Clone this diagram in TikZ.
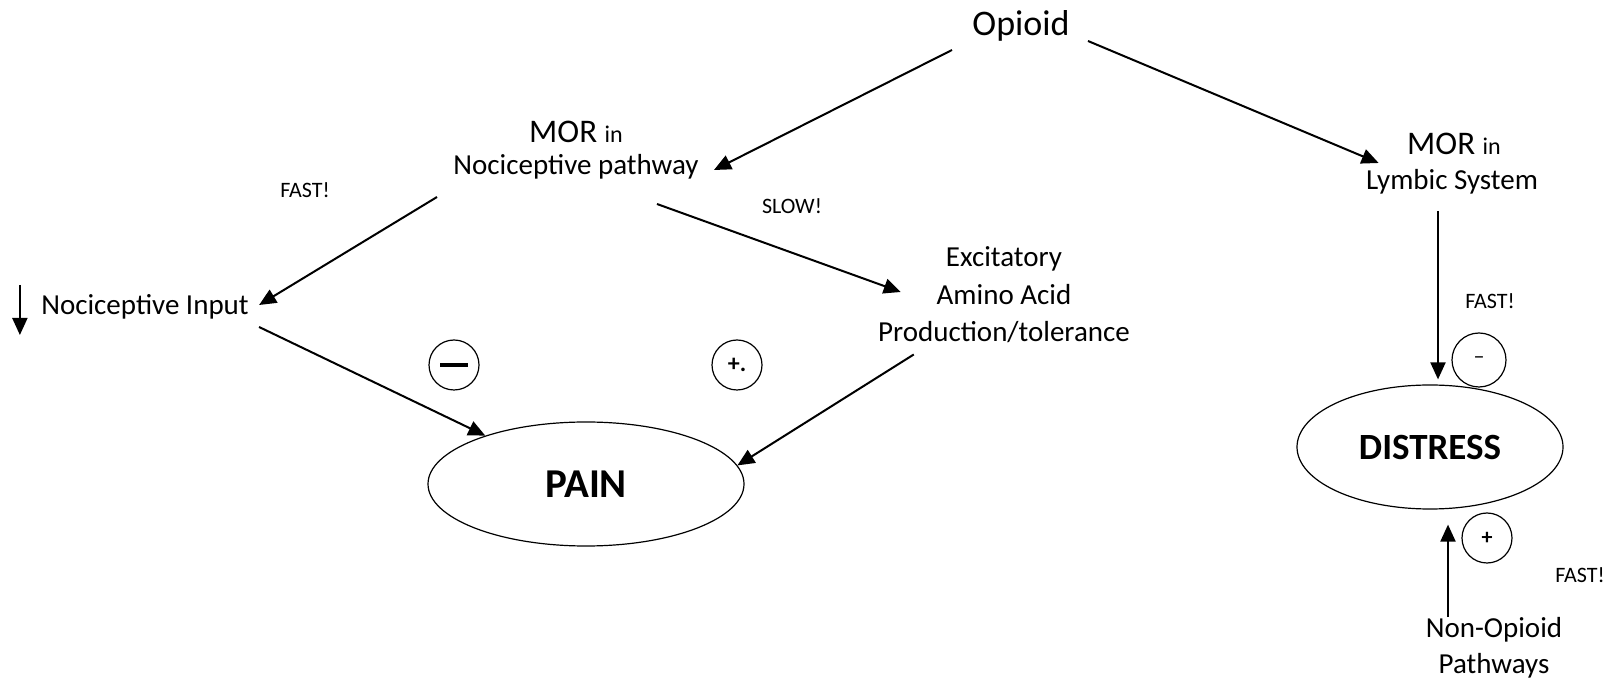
\documentclass[tikz,border=0pt]{standalone}
\usepackage{fontspec}
\setmainfont{Carlito}
\usetikzlibrary{shapes.geometric, arrows.meta}

\newcommand{\fsz}[2]{\fontsize{#1}{#2}\selectfont}

\begin{document}
\begin{tikzpicture}[x=0.5pt, y=-0.5pt,
    myarrow/.style={line width=1pt, -{Triangle[length=8.5pt, width=7.5pt]}},
    txt/.style={inner sep=0pt, anchor=base},
    multi/.style={inner sep=0pt, align=center},
    outcome/.style={ellipse, draw, line width=0.6pt, inner sep=0pt},
    sign/.style={circle, draw, line width=0.6pt, inner sep=0pt, minimum size=25pt}
]

    \useasboundingbox (0,0) rectangle (1612,683);

    % ==========================================
    % 1. OPIOID AND RECEPTORS (Top)
    % ==========================================

    \node[txt, font=\fsz{18}{22}] (opioid) at (1021,36) {Opioid};

    \node[txt] (mor1) at (576,143) {\fsz{16.5}{20}MOR \fsz{12}{14}in};
    \node[txt, font=\fsz{14.5}{18}] (path1) at (576,175) {Nociceptive pathway};

    \node[txt] (mor2) at (1454,155) {\fsz{16.5}{20}MOR \fsz{12}{14}in};
    \node[txt, font=\fsz{14.5}{18}] (lym) at (1452,190) {Lymbic System};

    % ==========================================
    % 2. PAIN BRANCH (Left)
    % ==========================================

    \node[txt, font=\fsz{14.5}{18}] (input) at (145,315) {Nociceptive Input};
    \node[multi, font=\fsz{14.5}{18.75}] (excit) at (1004,295) {Excitatory\\Amino Acid\\Production/tolerance};

    \node[txt, font=\fsz{11}{13}] (fast1) at (305,198) {FAST!};
    \node[txt, font=\fsz{11}{13}] (slow) at (792,214) {SLOW!};

    \node[outcome, minimum width=158pt, minimum height=62pt, font=\fsz{20.5}{24}\bfseries] (pain) at (586,484) {PAIN};

    \node[sign] (minus1) at (454,365) {\rule{14pt}{2pt}};
    \node[sign, font=\fsz{12}{14}\bfseries] (plus1) at (737,365) {+.};

    % ==========================================
    % 3. DISTRESS BRANCH (Right)
    % ==========================================

    \node[outcome, minimum width=133pt, minimum height=62pt, font=\fsz{18.5}{22}\bfseries] (distress) at (1430,447) {DISTRESS};

    \node[txt, font=\fsz{11}{13}] (fast2) at (1490,309) {FAST!};
    \node[txt, font=\fsz{11}{13}] (fast3) at (1580,583) {FAST!};

    \node[sign, minimum size=27pt, font=\fsz{11}{13}] (minus2) at (1479,360) {–};
    \node[sign, font=\fsz{11}{13}\bfseries] (plus2) at (1487,538) {+};

    \node[multi, font=\fsz{14.5}{18}] (nonop) at (1494,648) {Non-Opioid\\Pathways};

    % ==========================================
    % 4. ARROWS
    % ==========================================

    \draw[myarrow] ([shift={(-69,14)}]opioid.base) -- ([shift={(15,-5)}]path1.base east);
    \draw[myarrow] ([shift={(18,5)}]opioid.base east) -- ([shift={(13,-27)}]lym.base west);

    % FAST! and SLOW! branches
    \draw[myarrow] ([shift={(-16,22)}]path1.base west) -- ([shift={(10,-10)}]input.base east);
    \draw[myarrow] ([shift={(-42,29)}]path1.base east) -- ([shift={(23,-3)}]excit.west);
    \draw[myarrow] ([shift={(-21,-30)}]input.base west) -- ([shift={(-21,20)}]input.base west);

    % into PAIN
    \draw[myarrow] ([shift={(10,12)}]input.base east) -- (pain);
    \draw[myarrow] ([shift={(36,11)}]excit.south west) -- (pain.7);

    % into DISTRESS
    \draw[myarrow] ([shift={(-14,21)}]lym.base) -- ([shift={(8,-5)}]distress.north);
    \draw[myarrow] ([shift={(-46,0)}]nonop.north) -- ([shift={(18,15)}]distress.south);

\end{tikzpicture}
\end{document}
